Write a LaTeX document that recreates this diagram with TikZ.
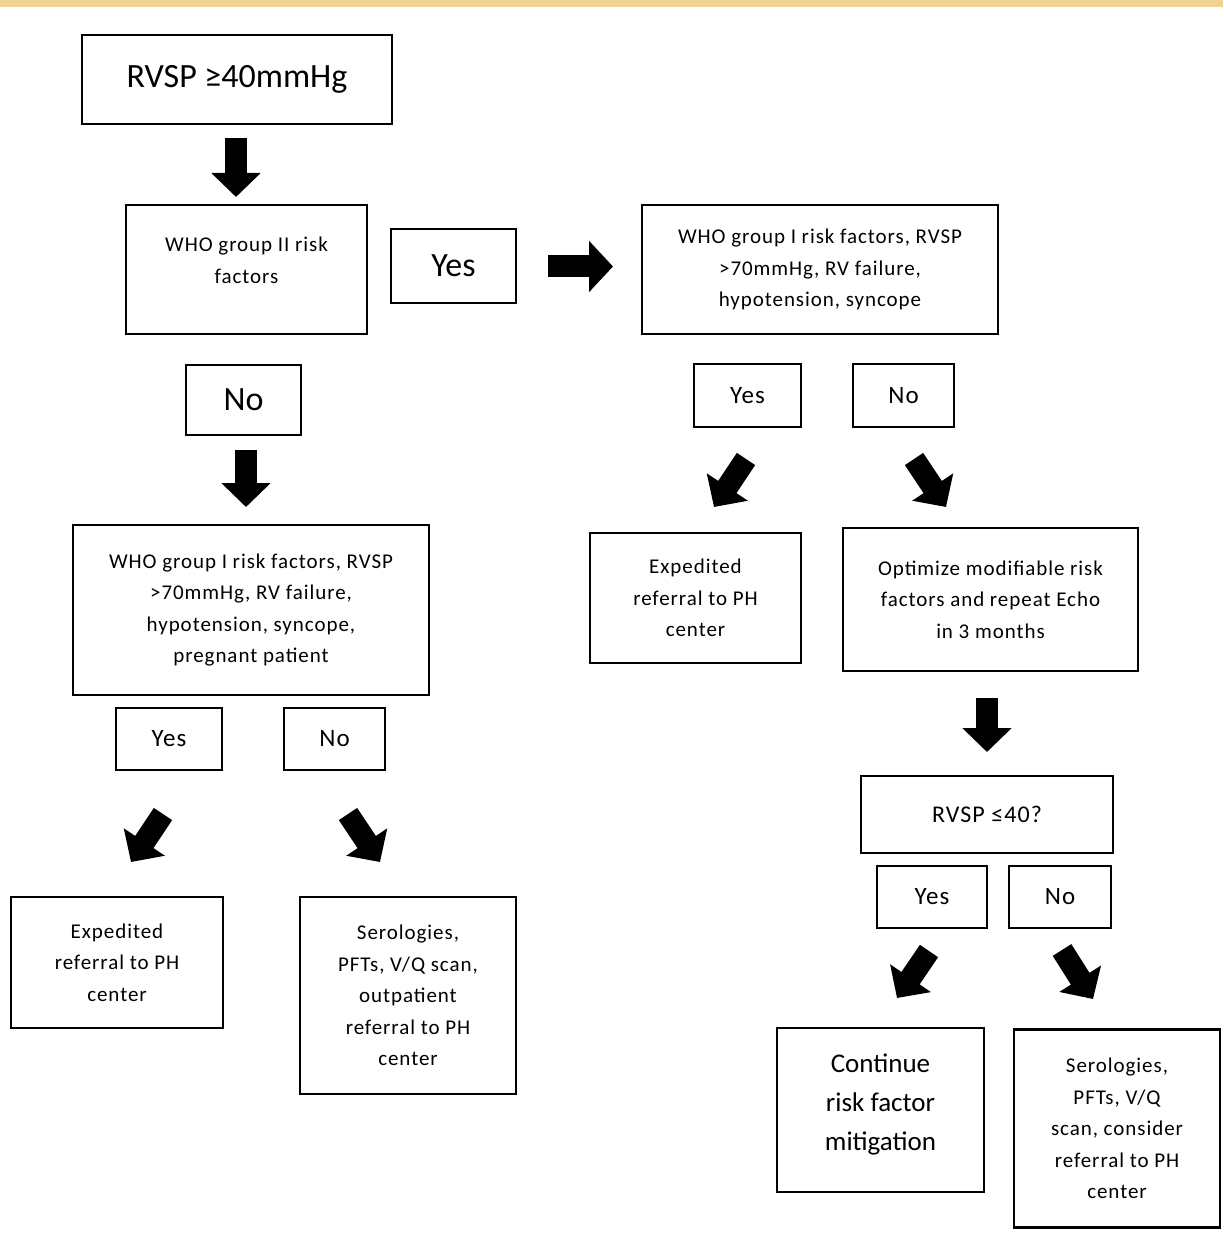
\documentclass[tikz,border=0pt]{standalone}
\usepackage{fontspec}
\setmainfont{Carlito}
\newfontfamily\spacedfont{Carlito}[LetterSpace=4.5]
\usetikzlibrary{arrows.meta}
\definecolor{bandtan}{HTML}{F2D294}

\tikzset{
  box/.style={draw, line width=2.6pt, align=center, inner sep=0pt, font=\spacedfont\fontsize{21}{31.5}\selectfont},
  bigbox/.style={box, font=\fontsize{34}{40}\selectfont},
  answer/.style={box, font=\spacedfont\fontsize{25}{30}\selectfont},
  blockarrow/.style={line width=22pt, -{Triangle[length=24pt, width=48pt]}}
}

\begin{document}
\begin{tikzpicture}[x=1pt, y=-1pt]
    % page and top band
    \fill[white] (0,0) rectangle (1223,1246);
    \useasboundingbox (0,0) rectangle (1223,1246);
    \fill[bandtan] (0,0) rectangle (1223,7);

    % left column
    \node[bigbox, minimum width=310pt, minimum height=89pt] (start) at (237,79.5) {RVSP ≥40mmHg};
    \node[box, minimum width=241pt, minimum height=129pt] (grouptwo) at (246.5,269.5) {WHO group II risk\\factors\\[-13pt]};
    \node[bigbox, minimum width=125pt, minimum height=74pt] (yesbig) at (453.5,266) {Yes};
    \node[bigbox, minimum width=115pt, minimum height=70pt] (nobig) at (243.5,400) {No};
    \node[box, minimum width=356pt, minimum height=170pt] (groupone) at (251,610) {WHO group I risk factors, RVSP\\>70mmHg, RV failure,\\hypotension, syncope,\\pregnant patient};
    \node[answer, minimum width=106pt, minimum height=62pt] (yesleft) at (169,739) {Yes};
    \node[answer, minimum width=101pt, minimum height=62pt] (noleft) at (334.5,739) {No};
    \node[box, minimum width=212pt, minimum height=131pt] (expleft) at (117,962.5) {Expedited\\referral to PH\\center};
    \node[box, minimum width=216pt, minimum height=197pt] (serleft) at (408,995.5) {Serologies,\\PFTs, V/Q scan,\\outpatient\\referral to PH\\center};

    % right column
    \node[box, minimum width=356pt, minimum height=129pt] (grouponeright) at (820,269.5) {WHO group I risk factors, RVSP\\>70mmHg, RV failure,\\hypotension, syncope};
    \node[answer, minimum width=107pt, minimum height=63pt] (yesright) at (747.5,395.5) {Yes};
    \node[answer, minimum width=101pt, minimum height=63pt] (noright) at (903.5,395.5) {No};
    \node[box, minimum width=211pt, minimum height=130pt] (expright) at (695.5,598) {Expedited\\referral to PH\\center};
    \node[box, minimum width=295pt, minimum height=143pt] (optimize) at (990.5,599.5) {Optimize modifiable risk\\factors and repeat Echo\\in 3 months};
    \node[answer, font=\spacedfont\fontsize{24}{28}\selectfont, minimum width=252pt, minimum height=77pt] (recheck) at (987,814.5) {RVSP ≤40?};
    \node[answer, minimum width=110pt, minimum height=62pt] (yescheck) at (932,897) {Yes};
    \node[answer, minimum width=102pt, minimum height=62pt] (nocheck) at (1060,897) {No};
    \node[box, font=\fontsize{27}{39}\selectfont, minimum width=207pt, minimum height=164pt] (continue) at (880.5,1110) {Continue\\risk factor\\mitigation\\[-23pt]};
    \node[box, minimum width=206pt, minimum height=198pt] (serright) at (1117,1128.5) {Serologies,\\PFTs, V/Q\\scan, consider\\referral to PH\\center};

    % block arrows
    \coordinate (downone) at (236,138);   \coordinate (downoneend) at (236,197);
    \coordinate (across) at (548,266.5);  \coordinate (acrossend) at (613,266.5);
    \coordinate (downtwo) at (246,450);   \coordinate (downtwoend) at (246,507);
    \coordinate (downthree) at (987,698); \coordinate (downthreeend) at (987,752);
    \draw[blockarrow] (downone) -- (downoneend);
    \draw[blockarrow, -{Triangle[length=24pt, width=50pt]}] (across) -- (acrossend);
    \draw[blockarrow] (downtwo) -- (downtwoend);
    \draw[blockarrow] (downthree) -- (downthreeend);

    % diagonal arrows
    \coordinate (yl) at (163,814);  \coordinate (ylend) at (131,862);
    \coordinate (nl) at (348,814);  \coordinate (nlend) at (380,862);
    \coordinate (yr) at (746,459);  \coordinate (yrend) at (714,507);
    \coordinate (nr) at (914,459);  \coordinate (nrend) at (946,507);
    \coordinate (yc) at (929,951);  \coordinate (ycend) at (897,998);
    \coordinate (nc) at (1062,950); \coordinate (ncend) at (1093,999);
    \draw[blockarrow] (yl) -- (ylend);
    \draw[blockarrow] (nl) -- (nlend);
    \draw[blockarrow] (yr) -- (yrend);
    \draw[blockarrow] (nr) -- (nrend);
    \draw[blockarrow] (yc) -- (ycend);
    \draw[blockarrow] (nc) -- (ncend);
\end{tikzpicture}
\end{document}
